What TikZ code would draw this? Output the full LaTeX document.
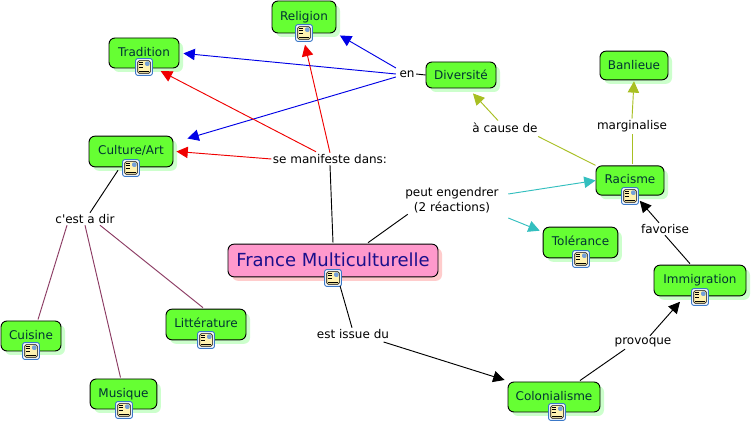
\documentclass[tikz,border=0pt]{standalone}
\usepackage{fontspec}
\setmainfont{DejaVu Sans}
\usetikzlibrary{arrows.meta,calc,shadows}
\definecolor{cgreen}{HTML}{66FF33}
\definecolor{cgshadow}{HTML}{CCFFCC}
\definecolor{cpink}{HTML}{FF99CC}
\definecolor{cpshadow}{HTML}{FFCCCC}
\definecolor{ctext}{HTML}{003333}
\definecolor{cnavy}{HTML}{1A0F8C}
\definecolor{cblue}{HTML}{0000E6}
\definecolor{cred}{HTML}{F00000}
\definecolor{colive}{HTML}{A8BF22}
\definecolor{ccyan}{HTML}{33BFBF}
\definecolor{cmaroon}{HTML}{8B3A62}
\definecolor{cframe}{HTML}{3A78C8}
\definecolor{cpage}{HTML}{FFF2B0}
\tikzset{
  concept/.style={draw=black,line width=0.7pt,fill=cgreen,rounded corners=4.5pt,text=ctext,
    font=\fontsize{9pt}{10pt}\selectfont,inner sep=0pt,
    general shadow={shadow xshift=3pt,shadow yshift=-3pt,fill=cgshadow}},
  maincon/.style={draw=black,line width=0.7pt,fill=cpink,rounded corners=4.5pt,text=cnavy,
    font=\fontsize{13.5pt}{17pt}\selectfont,inner sep=0pt,
    general shadow={shadow xshift=3pt,shadow yshift=-3pt,fill=cpshadow}},
  linklabel/.style={font=\fontsize{9pt}{11pt}\selectfont,text=black,inner sep=1pt,align=center},
  iconbox/.style={draw=cframe,line width=0.7pt,fill=white,rounded corners=1.5pt,
    minimum width=12.5pt,minimum height=12.5pt,inner sep=0pt,
    path picture={
      \fill[cpage] ($(path picture bounding box.south west)+(1.5pt,1.5pt)$) rectangle ($(path picture bounding box.north east)+(-1.5pt,-1.5pt)$);
      \draw[black,line width=0.5pt] ($(path picture bounding box.south west)+(1.5pt,1.5pt)$) rectangle ($(path picture bounding box.north east)+(-1.5pt,-1.5pt)$);
      \fill[cframe!70] ($(path picture bounding box.north east)+(-5.5pt,-2pt)$) rectangle ($(path picture bounding box.north east)+(-2pt,-5.5pt)$);
      \foreach \yy in {2.5pt,4.5pt,6.5pt}{\draw[black,line width=0.4pt] ($(path picture bounding box.north west)+(2.5pt,-\yy)$) -- ++(3pt,0);}
      \draw[black,line width=0.4pt] ($(path picture bounding box.south west)+(2.5pt,3pt)$) -- ++(7.5pt,0);
    }},
  plain/.style={line width=0.7pt,draw=black},
  thin link/.style={line width=0.7pt},
  arrowed/.style={line width=0.7pt,-{Triangle[length=8.5pt,width=8.5pt]}},
}
\begin{document}
\begin{tikzpicture}[x=0.75pt,y=-0.75pt]
\useasboundingbox (0,0) rectangle (751,423);
\fill[white] (0,0) rectangle (751,423);

% concepts
\node[concept,minimum width=48pt,minimum height=24pt] (religion) at (304,17) {\raisebox{2pt}{Religion}};
\node[concept,minimum width=52.5pt,minimum height=22.5pt] (tradition) at (144,53) {\raisebox{2pt}{Tradition}};
\node[concept,minimum width=63pt,minimum height=23pt] (culture) at (131,151.5) {\raisebox{2pt}{Culture/Art}};
\node[concept,minimum width=52.5pt,minimum height=19.5pt] (diversite) at (461,75) {Diversité};
\node[concept,minimum width=51pt,minimum height=21.5pt] (banlieue) at (634,65.5) {Banlieue};
\node[concept,minimum width=51pt,minimum height=22pt] (racisme) at (630,180.5) {\raisebox{2pt}{Racisme}};
\node[concept,minimum width=56pt,minimum height=23pt] (tolerance) at (580.5,242.5) {\raisebox{2pt}{Tolérance}};
\node[concept,minimum width=69pt,minimum height=23pt] (immigration) at (700,280.5) {\raisebox{2pt}{Immigration}};
\node[concept,minimum width=69pt,minimum height=22.5pt] (colonialisme) at (554,397) {\raisebox{2pt}{Colonialisme}};
\node[concept,minimum width=45pt,minimum height=22.5pt] (cuisine) at (31,336) {\raisebox{2pt}{Cuisine}};
\node[concept,minimum width=50pt,minimum height=22.5pt] (musique) at (123.5,394) {\raisebox{2pt}{Musique}};
\node[concept,minimum width=60pt,minimum height=23pt] (litterature) at (206,324.5) {\raisebox{2pt}{Littérature}};
\node[maincon,minimum width=157.5pt,minimum height=24.5pt] (france) at (333,260.5) {\raisebox{1pt}{France Multiculturelle}};

% icons
\node[iconbox] (iReligion) at (304,33) {};
\node[iconbox] (iTradition) at (144,67) {};
\node[iconbox] (iCulture) at (131,168) {};
\node[iconbox] (iRacisme) at (630,196) {};
\node[iconbox] (iTolerance) at (581,259) {};
\node[iconbox] (iImmigration) at (700,297) {};
\node[iconbox] (iColonialisme) at (557,412) {};
\node[iconbox] (iCuisine) at (31,351) {};
\node[iconbox] (iMusique) at (124,410) {};
\node[iconbox] (iLitterature) at (206,340) {};
\node[iconbox] (iFrance) at (333,278) {};

% link labels
\node[linklabel] (en) at (407,74) {en};
\node[linklabel] (manifeste) at (330,159) {se manifeste dans:};
\node[linklabel] (cest) at (85,219) {c\textquotesingle est a dir};
\node[linklabel] (engendrer) at (452,200) {peut engendrer\\(2 réactions)};
\node[linklabel] (acause) at (505,128) {à cause de};
\node[linklabel] (marginalise) at (632,126) {marginalise};
\node[linklabel] (favorise) at (665,229) {favorise};
\node[linklabel] (provoque) at (643,342) {provoque};
\node[linklabel] (issue) at (353,334) {est issue du};

% connectors
\draw[plain] (en.east) -- (diversite.west);
\draw[arrowed,cblue,shorten >=3pt] ($(en.west)+(-2,0)$) -- (tradition.east);
\draw[arrowed,cblue,shorten >=3pt] ($(en.west)+(-2,-6)$) -- ($(religion.south east)+(0,0)$);
\draw[arrowed,cblue] ($(en.west)+(-2,3)$) -- ($(culture.east)+(14,-13)$);
\draw[arrowed,cred] ($(manifeste.north)+(-14,-1)$) -- ($(iTradition.north east)+(8,13)$);
\draw[arrowed,cred] (manifeste.north) -- ($(iReligion.south)+(1,3)$);
\draw[arrowed,cred] (manifeste.west) -- ($(culture.east)+(3,0)$);
\draw[plain] (manifeste.south) -- ($(france.north)+(0,-1)$);
\draw[plain] ($(france.north)+(35,-1)$) -- ($(engendrer.south west)+(4,0)$);
\draw[arrowed,ccyan] ($(engendrer.east)+(8,-6)$) -- (racisme.west);
\draw[arrowed,ccyan] ($(engendrer.east)+(8,18)$) -- ($(tolerance.north west)+(-3,4)$);
\draw[thin link,draw=colive] (racisme.north west) -- ($(acause.south east)+(-1,2)$);
\draw[arrowed,colive] ($(acause.north)+(-7,-1)$) -- ($(diversite.south)+(12,5)$);
\draw[thin link,draw=colive] ($(racisme.north)+(2,-1)$) -- ($(marginalise.south)+(0,1)$);
\draw[arrowed,colive] (marginalise.north) -- ($(banlieue.south)+(0,1)$);
\draw[plain] ($(immigration.north)+(-10,-1)$) -- (favorise.south);
\draw[arrowed,black] ($(favorise.north)+(-6,0)$) -- ($(iRacisme.south east)+(1,-4)$);
\draw[plain] ($(colonialisme.north)+(26,-1)$) -- ($(provoque.south)+(-18,1)$);
\draw[arrowed,black] ($(provoque.north)+(7,0)$) -- ($(iImmigration.south)+(-20,-4)$);
\draw[plain] ($(iFrance.south)+(7,-1)$) -- ($(issue.north)+(-1,0)$);
\draw[arrowed,black] ($(issue.east)+(-7,8)$) -- ($(colonialisme.west)+(-3,-17)$);
\draw[plain] ($(culture.south)+(-13,3)$) -- ($(cest.north)+(5,0)$);
\draw[thin link,draw=cmaroon] ($(cest.south)+(-18,0)$) -- ($(cuisine.north)+(7,-1)$);
\draw[thin link,draw=cmaroon] (cest.south) -- ($(musique.north)+(-3,-1)$);
\draw[thin link,draw=cmaroon] ($(cest.south)+(15,0)$) -- ($(litterature.north)+(-3,-1)$);
\end{tikzpicture}
\end{document}
